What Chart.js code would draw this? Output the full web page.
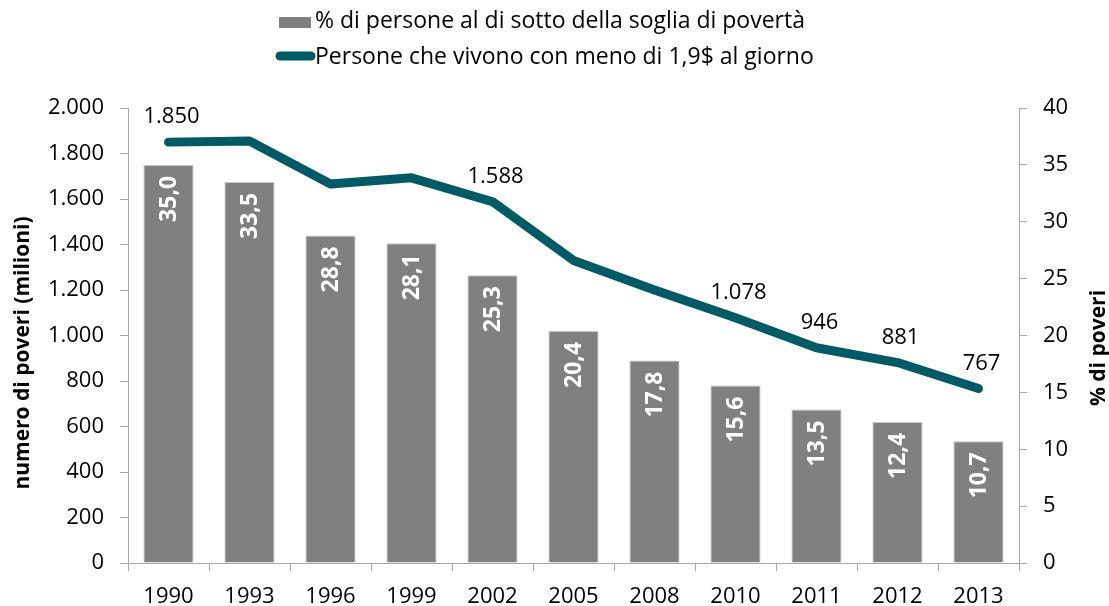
<!DOCTYPE html>
<html lang="it">
<head>
<meta charset="utf-8">
<title>Povertà nel mondo</title>
<script src="https://cdn.jsdelivr.net/npm/chart.js@4.4.1/dist/chart.umd.min.js"></script>
<style>
  body { margin: 0; background: #fff; }
  #chart-wrap { width: 1109px; height: 606px; }
</style>
</head>
<body>
<div id="chart-wrap"><canvas id="poverty-chart" width="1109" height="606"></canvas></div>
<script>
const years = ["1990", "1993", "1996", "1999", "2002", "2005", "2008", "2010", "2011", "2012", "2013"];
const povertyPercent = [35.0, 33.5, 28.8, 28.1, 25.3, 20.4, 17.8, 15.6, 13.5, 12.4, 10.7];
const poorPeople = [1850, 1855, 1666, 1693, 1588, 1330, 1200, 1078, 946, 881, 767];
// only these points of the line carry a value label
const labelledPoints = [0, 4, 7, 8, 9, 10];

const leftTicks = [0, 200, 400, 600, 800, 1000, 1200, 1400, 1600, 1800, 2000];
const rightTicks = [0, 5, 10, 15, 20, 25, 30, 35, 40];

const barLabel = "% di persone al di sotto della soglia di povertà";
const lineLabel = "Persone che vivono con meno di 1,9$ al giorno";
const leftTitle = "numero di poveri (milioni)";
const rightTitle = "% di poveri";

const fontFamily = "'Open Sans', Lato, sans-serif";
const axisColor = "#a6a6a6";
const barColor = "#808080";
const lineColor = "#005a66";

function formatThousands(value) {
  return value.toString().replace(/\B(?=(\d{3})+(?!\d))/g, ".");
}
function formatPercent(value) {
  return value.toFixed(1).replace(".", ",");
}

const labelsPlugin = {
  id: "customLabels",
  afterDatasetsDraw(chart) {
    const { ctx } = chart;

    // bar values, rotated, white, inside the top of the bar
    const barMeta = chart.getDatasetMeta(0);
    ctx.save();
    ctx.fillStyle = "#ffffff";
    ctx.font = "bold 23px " + fontFamily;
    ctx.textAlign = "right";
    ctx.textBaseline = "middle";
    barMeta.data.forEach((bar, i) => {
      ctx.save();
      ctx.translate(bar.x + 1, bar.y + 11);
      ctx.rotate(-Math.PI / 2);
      ctx.fillText(formatPercent(povertyPercent[i]), 0, 0);
      ctx.restore();
    });
    ctx.restore();

    // line values above selected points
    const lineMeta = chart.getDatasetMeta(1);
    ctx.save();
    ctx.fillStyle = "#000000";
    ctx.font = "22px " + fontFamily;
    ctx.textAlign = "center";
    ctx.textBaseline = "middle";
    for (const i of labelledPoints) {
      const point = lineMeta.data[i];
      ctx.fillText(formatThousands(poorPeople[i]), point.x + 3, point.y - 25);
    }
    ctx.restore();
  },
  afterDraw(chart) {
    const { ctx, chartArea } = chart;
    const barSet = chart.data.datasets[0];
    const lineSet = chart.data.datasets[1];

    // legend, two stacked rows
    ctx.save();
    ctx.font = "23px " + fontFamily;
    ctx.textBaseline = "middle";
    ctx.textAlign = "left";
    ctx.fillStyle = barSet.backgroundColor;
    ctx.fillRect(279, 17, 32, 11);
    ctx.fillStyle = "#000000";
    ctx.fillText(barSet.label, 315, 21);

    ctx.strokeStyle = lineSet.borderColor;
    ctx.lineWidth = 9;
    ctx.lineCap = "round";
    ctx.beginPath();
    ctx.moveTo(280, 56);
    ctx.lineTo(311, 56);
    ctx.stroke();
    ctx.fillText(lineSet.label, 315, 57);
    ctx.restore();

    // axis titles, both read bottom to top
    ctx.save();
    ctx.fillStyle = "#000000";
    ctx.font = "bold 21px " + fontFamily;
    ctx.textAlign = "center";
    ctx.textBaseline = "middle";
    ctx.translate(23, 353);
    ctx.rotate(-Math.PI / 2);
    ctx.fillText(leftTitle, 0, 0);
    ctx.restore();

    ctx.save();
    ctx.fillStyle = "#000000";
    ctx.font = "bold 21px " + fontFamily;
    ctx.textAlign = "center";
    ctx.textBaseline = "middle";
    ctx.translate(chartArea.right + 80, 348);
    ctx.rotate(-Math.PI / 2);
    ctx.fillText(rightTitle, 0, 0);
    ctx.restore();
  },
};

const chartEl = document.getElementById("poverty-chart");

new Chart(chartEl, {
  type: "bar",
  data: {
    labels: years,
    datasets: [
      {
        type: "bar",
        label: barLabel,
        data: povertyPercent,
        yAxisID: "y1",
        backgroundColor: barColor,
        borderColor: "#c4c4c4",
        borderWidth: 1,
        categoryPercentage: 1,
        barPercentage: 0.62,
        order: 2,
      },
      {
        type: "line",
        label: lineLabel,
        data: poorPeople,
        yAxisID: "y",
        borderColor: lineColor,
        backgroundColor: lineColor,
        borderWidth: 9,
        borderCapStyle: "round",
        borderJoinStyle: "round",
        pointRadius: 0,
        tension: 0,
        order: 1,
      },
    ],
  },
  options: {
    responsive: false,
    animation: false,
    layout: {
      padding: { top: 108, left: 0, right: 0, bottom: 0 },
    },
    plugins: {
      legend: { display: false },
      tooltip: { enabled: false },
    },
    scales: {
      x: {
        offset: true,
        grid: {
          offset: true,
          drawOnChartArea: false,
          tickLength: 8,
          color: axisColor,
        },
        border: { color: axisColor },
        ticks: {
          color: "#000000",
          padding: 13,
          maxRotation: 0,
          font: { family: fontFamily, size: 22 },
        },
        afterFit(scale) {
          scale.height = 43;
        },
      },
      y: {
        position: "left",
        min: 0,
        max: 2000,
        afterBuildTicks(scale) {
          scale.ticks = leftTicks.map((v) => ({ value: v }));
        },
        grid: {
          drawOnChartArea: false,
          tickLength: 8,
          color: axisColor,
        },
        border: { color: axisColor },
        ticks: {
          color: "#000000",
          padding: 16,
          font: { family: fontFamily, size: 22 },
          callback: (value) => formatThousands(value),
        },
        afterFit(scale) {
          scale.width = 128;
        },
      },
      y1: {
        position: "right",
        min: 0,
        max: 40,
        afterBuildTicks(scale) {
          scale.ticks = rightTicks.map((v) => ({ value: v }));
        },
        grid: {
          drawOnChartArea: false,
          tickLength: 8,
          color: axisColor,
        },
        border: { color: axisColor },
        ticks: {
          color: "#000000",
          padding: 16,
          font: { family: fontFamily, size: 22 },
        },
        afterFit(scale) {
          scale.width = 90;
        },
      },
    },
  },
  plugins: [labelsPlugin],
});
</script>
</body>
</html>
